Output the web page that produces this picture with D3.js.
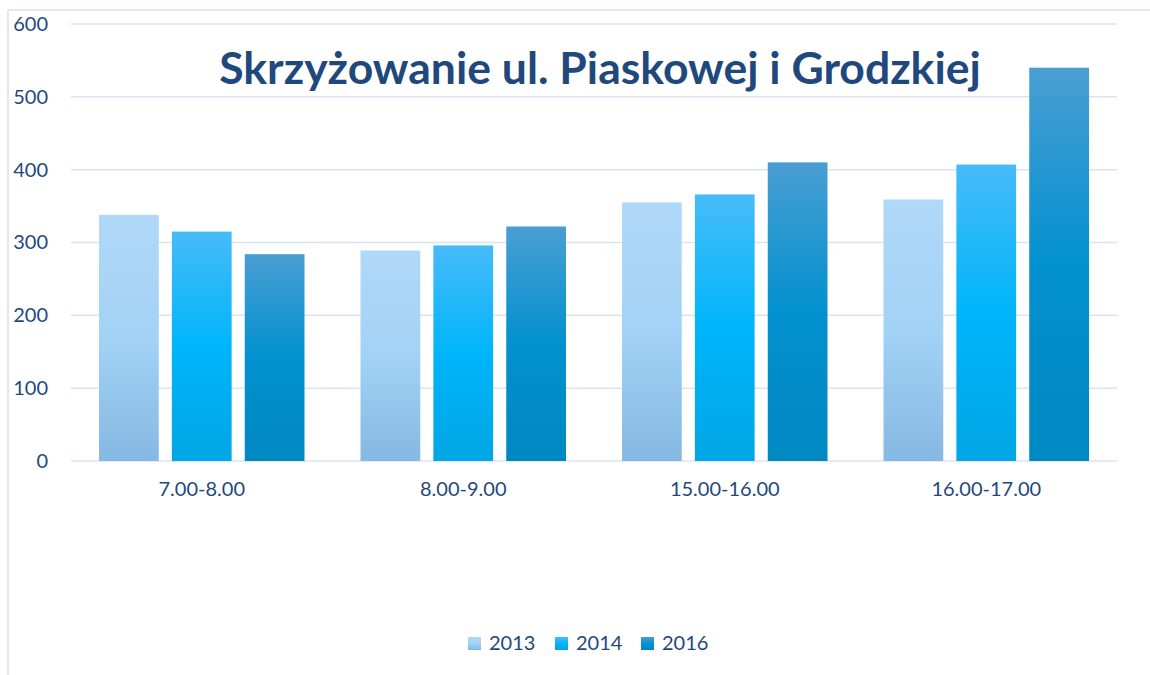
<!DOCTYPE html>
<html><head><meta charset="utf-8">
<script src="https://cdn.jsdelivr.net/npm/d3@7"></script>
<style>html,body{margin:0;padding:0;background:#fff;}svg{display:block;}</style>
</head><body>
<script>
const categories = ["7.00-8.00", "8.00-9.00", "15.00-16.00", "16.00-17.00"];
const seriesNames = ["2013", "2014", "2016"];
const values2013 = [338, 289, 355, 359];
const values2014 = [315, 296, 366, 407];
const values2016 = [284, 322, 410, 540];
const yTicks = [0, 100, 200, 300, 400, 500, 600];
const title = "Skrzyżowanie ul. Piaskowej i Grodzkiej";

const W = 1150, H = 675;
const svg = d3.select("body").append("svg").attr("width", W).attr("height", H);
const font = "Lato, 'Open Sans', sans-serif";
const textColor = "#1F497D";

const gradStops = [
  [["0%", "#B0D8F8"], ["50%", "#A2D2F6"], ["100%", "#85B8E2"]],
  [["0%", "#47BBF9"], ["50%", "#00B5FA"], ["100%", "#00A6E5"]],
  [["0%", "#4A9ED3"], ["50%", "#0291CF"], ["100%", "#0088C2"]]
];
const defs = svg.append("defs");
gradStops.forEach((stops, i) => {
  const g = defs.append("linearGradient").attr("id", "g" + i)
    .attr("x1", 0).attr("y1", 0).attr("x2", 0).attr("y2", 1);
  stops.forEach(s => g.append("stop").attr("offset", s[0]).attr("stop-color", s[1]));
});

// frame
svg.append("line").attr("x1", 8).attr("x2", 8).attr("y1", 10).attr("y2", H)
  .attr("stroke", "#D3E2F2").attr("stroke-width", 1.5);
svg.append("line").attr("x1", 8).attr("x2", W).attr("y1", 10).attr("y2", 10)
  .attr("stroke", "#D3E2F2").attr("stroke-width", 1.5);

const x0 = d3.scaleBand().domain(categories).range([71, 1117]).paddingInner(0).paddingOuter(0);
const x1 = d3.scaleBand().domain(seriesNames).range([28, x0.bandwidth() - 28]).paddingInner(0.18);
const y = d3.scaleLinear().domain([0, 600]).range([461, 24]);

// gridlines
svg.append("g").selectAll("line").data(yTicks).join("line")
  .attr("x1", 71).attr("x2", 1117)
  .attr("y1", d => y(d)).attr("y2", d => y(d))
  .attr("stroke", "#D9E5F4").attr("stroke-width", 1.5);

// y axis labels
const yAxis = d3.axisLeft(y).tickValues(yTicks).tickSize(0).tickPadding(0);
const ya = svg.append("g").attr("transform", "translate(48,0)").call(yAxis);
ya.select(".domain").remove();
ya.selectAll("text").attr("fill", textColor).attr("font-family", font).attr("font-size", 20);

// x axis labels
const xAxis = d3.axisBottom(x0).tickSize(0).tickPadding(0);
const xa = svg.append("g").attr("transform", "translate(0,482)").call(xAxis);
xa.select(".domain").remove();
xa.selectAll("text").attr("fill", textColor).attr("font-family", font).attr("font-size", 20);

// bars
const allSeries = [values2013, values2014, values2016];
const groups = svg.append("g").selectAll("g").data(categories).join("g")
  .attr("transform", d => `translate(${x0(d)},0)`);
groups.selectAll("rect").data((d, ci) => seriesNames.map((s, si) => ({ s, si, v: allSeries[si][ci] })))
  .join("rect")
  .attr("x", d => x1(d.s))
  .attr("width", x1.bandwidth())
  .attr("y", d => y(d.v))
  .attr("height", d => y(0) - y(d.v))
  .attr("fill", d => `url(#g${d.si})`);

// title
svg.append("text").attr("x", 600).attr("y", 84).attr("text-anchor", "middle")
  .attr("font-family", font).attr("font-weight", "bold").attr("font-size", 44.5)
  .attr("fill", textColor).text(title);

// legend
const legendX = [468, 555, 641];
const lg = svg.append("g").selectAll("g").data(seriesNames).join("g")
  .attr("transform", (d, i) => `translate(${legendX[i]},637)`);
lg.append("rect").attr("width", 13).attr("height", 13).attr("fill", (d, i) => `url(#g${i})`);
lg.append("text").attr("x", 21).attr("y", 13).attr("font-family", font).attr("font-size", 20)
  .attr("fill", textColor).text(d => d);
</script>
</body></html>
